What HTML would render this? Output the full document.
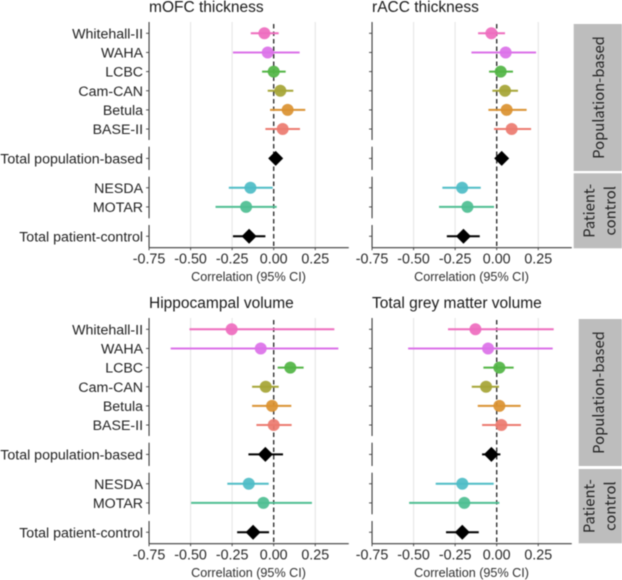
<!DOCTYPE html>
<html lang="en">
<head>
<meta charset="utf-8">
<title>Forest plots of correlation by brain measure</title>
<style>
html,body{margin:0;padding:0;background:#fff;width:622px;height:580px;overflow:hidden}
svg{display:block;filter:blur(0.4px)}
text{font-family:"Liberation Sans",Arial,sans-serif}
</style>
</head>
<body>
<svg id="chart" xmlns="http://www.w3.org/2000/svg" width="622" height="580" viewBox="0 0 622 580"></svg>
<script>
const cohorts = ["Whitehall-II","WAHA","LCBC","Cam-CAN","Betula","BASE-II","Total population-based","NESDA","MOTAR","Total patient-control"];
const cohortGroups = [0,0,0,0,0,0,1,2,2,3];
const cohortColors = ["#EE6DBE","#DB72E8","#52B545","#A6A536","#DA9232","#EC7B70","#000000","#4FBCC6","#4FBE92","#000000"];
const cohortShapes = ["circle","circle","circle","circle","circle","circle","diamond","circle","circle","diamond"];
const xTicks = [-0.75,-0.5,-0.25,0,0.25];
const xTickLabels = ["-0.75","-0.50","-0.25","0.00","0.25"];
const gridTicks = [-0.5,-0.25,0.25];

const mofcEst = [-0.056,-0.036,0,0.04,0.084,0.054,0.012,-0.14,-0.166,-0.148];
const mofcLo  = [-0.138,-0.245,-0.07,-0.036,-0.022,-0.05,-0.02,-0.27,-0.35,-0.245];
const mofcHi  = [0.03,0.156,0.072,0.118,0.19,0.158,0.045,-0.006,0.018,-0.05];

const raccEst = [-0.032,0.054,0.024,0.05,0.06,0.09,0.03,-0.208,-0.176,-0.2];
const raccLo  = [-0.112,-0.152,-0.046,-0.026,-0.05,-0.016,0,-0.327,-0.347,-0.3];
const raccHi  = [0.05,0.237,0.098,0.128,0.18,0.207,0.06,-0.096,-0.016,-0.102];

const hippEst = [-0.253,-0.078,0.1,-0.048,-0.01,0,-0.05,-0.15,-0.062,-0.124];
const hippLo  = [-0.507,-0.62,0.024,-0.13,-0.13,-0.104,-0.152,-0.279,-0.497,-0.22];
const hippHi  = [0.365,0.389,0.18,0.03,0.106,0.108,0.056,-0.03,0.23,-0.028];

const greyEst = [-0.128,-0.052,0.016,-0.064,0.016,0.028,-0.032,-0.207,-0.195,-0.207];
const greyLo  = [-0.293,-0.533,-0.08,-0.15,-0.114,-0.088,-0.088,-0.367,-0.527,-0.305];
const greyHi  = [0.343,0.337,0.102,0.014,0.144,0.146,0.022,-0.018,0.016,-0.108];

const NS = "http://www.w3.org/2000/svg";
const svg = document.getElementById("chart");
function mk(tag, attrs, parent, txt){
  const e = document.createElementNS(NS, tag);
  for (const k in attrs) e.setAttribute(k, attrs[k]);
  if (txt !== undefined) e.textContent = txt;
  (parent || svg).appendChild(e);
  return e;
}
const PX_PER_UNIT = 166.2;
const AXIS_COLOR = "#3c3c3c";

function drawPanel(o){
  const g = mk("g", {});
  
  
  const x = v => o.zeroX + v * PX_PER_UNIT;
  const y = i => o.dy + 33.3 + 19.15 * i + 10.2 * cohortGroups[i];
  const left = x(-0.75);
  const right = left + 199.7;
  const axisY = o.dy + 247.7;

  // title
  const title = mk("text", {x: left, y: o.dy + 12, "font-size": 15.5, fill: "#1a1a1a"}, g, o.title);
  
  

  // gridlines
  gridTicks.forEach(t => {
    const l = mk("line", {x1: x(t), x2: x(t), y1: o.dy + 22, y2: axisY, stroke: "#e4e4e4", "stroke-width": 1}, g);
    
    
  });

  // y axis segments, one per facet group
  [[22,140],[146.7,170],[176.7,218.3],[225,247.7]].forEach(s => {
    const l = mk("line", {x1: left, x2: left, y1: o.dy + s[0], y2: o.dy + s[1], stroke: AXIS_COLOR, "stroke-width": 1.1}, g);
    
    
  });

  // x axis
  const xa = mk("line", {x1: left, x2: right, y1: axisY, y2: axisY, stroke: AXIS_COLOR, "stroke-width": 1.2}, g);
  
  

  xTicks.forEach((t, i) => {
    const tk = mk("line", {x1: x(t), x2: x(t), y1: axisY, y2: axisY + 2.5, stroke: AXIS_COLOR, "stroke-width": 0.9}, g);
    
    
    const lb = mk("text", {x: x(t), y: axisY + 16, "font-size": 14.3, fill: "#2a2a2a", "text-anchor": "middle"}, g, xTickLabels[i]);
    
    
  });

  const at = mk("text", {x: left + 99.5, y: axisY + 33.3, "font-size": 12.6, fill: "#2f2f2f", "text-anchor": "middle"}, g, "Correlation (95% CI)");
  
  

  // y ticks and labels
  cohorts.forEach((c, i) => {
    const tk = mk("line", {x1: left - 3, x2: left, y1: y(i), y2: y(i), stroke: AXIS_COLOR, "stroke-width": 0.9}, g);
    
    
    if (o.showLabels) {
      const lb = mk("text", {x: left - 6, y: y(i) + 5, "font-size": 14.2, fill: "#222", "text-anchor": "end"}, g, c);
      
      
    }
  });

  // zero reference
  const z = mk("line", {x1: x(0), x2: x(0), y1: o.dy + 24, y2: axisY, stroke: "#222", "stroke-width": 1.3, "stroke-dasharray": "4.5 3"}, g);
  
  

  // marks
  cohorts.forEach((c, i) => {
    const ci = mk("line", {x1: x(o.lo[i]), x2: x(o.hi[i]), y1: y(i), y2: y(i), stroke: cohortColors[i], "stroke-width": 2}, g);
    
    
    if (cohortShapes[i] === "circle") {
      const p = mk("circle", {cx: x(o.est[i]), cy: y(i), r: 6, fill: cohortColors[i], "fill-opacity": 0.93}, g);
      
      
    } else {
      const cx = x(o.est[i]), cy = y(i), r = 7.5;
      const d = mk("polygon", {points: (cx-r)+","+cy+" "+cx+","+(cy-r)+" "+(cx+r)+","+cy+" "+cx+","+(cy+r), fill: "#000"}, g);
      
      
    }
  });
}

drawPanel({slug: "mofc", title: "mOFC thickness", zeroX: 273.7, dy: 0, showLabels: true, est: mofcEst, lo: mofcLo, hi: mofcHi});
drawPanel({slug: "racc", title: "rACC thickness", zeroX: 496.7, dy: 0, showLabels: false, est: raccEst, lo: raccLo, hi: raccHi});
drawPanel({slug: "hippocampal", title: "Hippocampal volume", zeroX: 273.7, dy: 296, showLabels: true, est: hippEst, lo: hippLo, hi: hippHi});
drawPanel({slug: "grey-matter", title: "Total grey matter volume", zeroX: 496.7, dy: 296, showLabels: false, est: greyEst, lo: greyLo, hi: greyHi});

function drawStrip(slug, x, top, bottom, lines){
  const g = mk("g", {});
  
  
  mk("rect", {x: x, y: top, width: 622 - x, height: bottom - top, fill: "#bdbdbd"}, g);
  const cy = (top + bottom) / 2;
  lines.forEach((t, i) => {
    const base = lines.length === 1 ? 604 : 594.3 + i * 21;
    const tx = mk("text", {x: 0, y: 0, transform: "translate(" + base + "," + cy + ") rotate(-90)", "font-size": 14.8, fill: "#222", "text-anchor": "middle"}, g, t);
    tx.style.fontFamily = '"Noto Sans CJK JP","DejaVu Sans",sans-serif';
  });
}
drawStrip("strip-population-based-top", 573.7, 24, 171, ["Population-based"]);
drawStrip("strip-patient-control-top", 573.7, 173.3, 248.3, ["Patient-", "control"]);
drawStrip("strip-population-based-bottom", 578.7, 319, 466, ["Population-based"]);
drawStrip("strip-patient-control-bottom", 578.7, 469, 543.3, ["Patient-", "control"]);
</script>
</body>
</html>
